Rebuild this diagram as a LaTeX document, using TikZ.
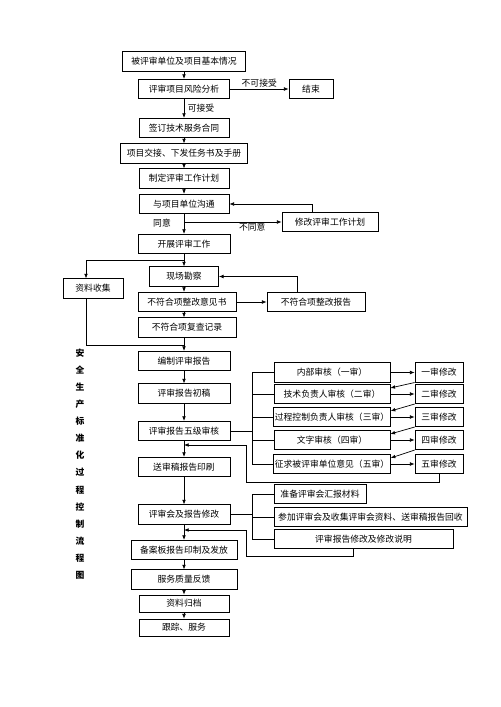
\documentclass[tikz,border=0pt]{standalone}
\usepackage{fontspec}
\setmainfont{Noto Sans CJK SC}
\usetikzlibrary{arrows.meta,positioning,calc}
\tikzset{arr/.style={draw, -{Latex[length=4pt,width=3.2pt]}, line width=0.6pt}}
\tikzset{ln/.style={draw, line width=0.6pt}}

\begin{document}
\begin{tikzpicture}[x=0.03cm, y=-0.03cm,
    box/.style={draw, line width=0.6pt, inner sep=1pt, minimum height=0.58cm, font=\fontsize{7.5}{9}\selectfont},
    lbl/.style={inner sep=1pt, font=\fontsize{7.5}{9}\selectfont}]
    \useasboundingbox (0,0) rectangle (500,707);

    % main column
    \node[box, minimum width=3.69cm] (basic) at (184,61.5) {被评审单位及项目基本情况};
    \node[box, minimum width=2.73cm] (risk) at (184,89) {评审项目风险分析};
    \node[box, minimum width=1.32cm] (finish) at (311,89) {结束};
    \node[box, minimum width=2.7cm] (contract) at (184,128) {签订技术服务合同};
    \node[box, minimum width=3.81cm] (handover) at (184,153.5) {项目交接、下发任务书及手册};
    \node[box, minimum width=2.7cm] (plan) at (184,178.5) {制定评审工作计划};
    \node[box, minimum width=2.7cm] (talk) at (184,204) {与项目单位沟通};
    \node[box, minimum width=2.88cm] (revise) at (330,222) {修改评审工作计划};
    \node[box, minimum width=2.76cm] (start) at (184,244) {开展评审工作};

    \node[box, minimum width=2.07cm] (site) at (184,276.5) {现场勘察};
    \node[box, minimum width=1.8cm] (collect) at (93,288.5) {资料收集};
    \node[box, minimum width=2.94cm] (nc) at (187,302) {不符合项整改意见书};
    \node[box, minimum width=2.94cm] (ncr) at (316,302) {不符合项整改报告};
    \node[box, minimum width=2.94cm] (recheck) at (187,327.5) {不符合项复查记录};

    \node[box, minimum width=2.76cm] (draft) at (184,361) {编制评审报告};
    \node[box, minimum width=2.76cm] (first) at (184,393.5) {评审报告初稿};
    \node[box, minimum width=2.76cm] (review) at (184,431) {评审报告五级审核};
    \node[box, minimum width=2.76cm] (print) at (184,467) {送审稿报告印刷};
    \node[box, minimum width=2.76cm] (meeting) at (184,514.5) {评审会及报告修改};
    \node[box, minimum width=3.18cm] (file) at (184,550) {备案板报告印制及发放};
    \node[box, minimum width=3.18cm] (feedback) at (184,579.5) {服务质量反馈};
    \node[box, minimum width=2.7cm, minimum height=0.51cm] (archive) at (184,603.5) {资料归档};
    \node[box, minimum width=2.7cm, minimum height=0.51cm] (service) at (184,627.5) {跟踪、服务};

    % five level review
    \node[box, minimum width=3.48cm] (rev1) at (332,372.5) {内部审核（一审）};
    \node[box, minimum width=3.48cm] (rev2) at (332,394) {技术负责人审核（二审）};
    \node[box, minimum width=3.48cm] (rev3) at (332,417) {过程控制负责人审核（三审）};
    \node[box, minimum width=3.48cm] (rev4) at (332,440) {文字审核（四审）};
    \node[box, minimum width=3.48cm] (rev5) at (332,464) {征求被评审单位意见（五审）};
    \node[box, minimum width=1.44cm] (fix1) at (439,372.5) {一审修改};
    \node[box, minimum width=1.44cm] (fix2) at (439,394) {二审修改};
    \node[box, minimum width=1.44cm] (fix3) at (439,417) {三审修改};
    \node[box, minimum width=1.44cm] (fix4) at (439,440) {四审修改};
    \node[box, minimum width=1.44cm] (fix5) at (439,464) {五审修改};

    % review meeting
    \node[box, minimum width=2.76cm] (prep) at (320,494) {准备评审会汇报材料};
    \node[box, minimum width=5.79cm] (attend) at (370.5,517) {参加评审会及收集评审会资料、送审稿报告回收};
    \node[box, minimum width=5.37cm] (note) at (363.5,539) {评审报告修改及修改说明};

    \node[lbl, font=\fontsize{7.5}{14.6}\selectfont\bfseries, align=center] (title) at (80,464)
        {安\\全\\生\\产\\标\\准\\化\\过\\程\\控\\制\\流\\程\\图};

    \draw[arr] (basic) -- (risk);
    \draw[arr] (risk) -- node[lbl, above] (nolbl) {不可接受} (finish);
    \draw[arr] (risk) -- node[lbl, right=2pt] (oklbl) {可接受} (contract);
    \draw[arr] (contract) -- (handover);
    \draw[arr] (handover) -- (plan);
    \draw[arr] (plan) -- (talk);
    \draw[arr] (talk) -- (start);
    \draw[arr] (talk.south |- revise.west) -- node[lbl, below, pos=0.7] (disagree) {不同意} (revise.west);
    \node[lbl] (agree) at (162,223) {同意};
    \draw[arr] ($(revise.north)+(-18,0)$) |- (talk.east);

    \coordinate (split) at (184,260);
    \coordinate (join) at (184,345);
    \draw[arr] (start) -- (site);
    \draw[arr] (split) -| ($(collect.north)+(-7,0)$);
    \draw[arr] (site) -- (site.south |- nc.north);
    \draw[arr] (nc) -- (ncr);
    \draw[arr] ($(ncr.north)+(-19,0)$) |- (site.east);
    \draw[arr] (nc.south -| site.south) -- (recheck.north -| site.south);
    \draw[arr] (recheck.south -| site.south) -- (draft.north);
    \draw[ln] ($(collect.south)+(-7,0)$) |- (join);

    \draw[arr] (draft) -- (first);
    \draw[arr] (first) -- (review);
    \draw[arr] (review) -- (print);
    \draw[arr] (print) -- (meeting);
    \draw[arr] (meeting) -- (file);
    \draw[arr] (file) -- (feedback);
    \draw[arr] (feedback) -- (archive);
    \draw[arr] (archive) -- (service);

    \draw[ln] (review.east) -- ++(23,0);
    \draw[ln] (rev1.west) -- ++(-21,0) |- (rev5.west);
    \draw[ln] (rev2.west) -- ++(-21,0);
    \draw[ln] (rev3.west) -- ++(-21,0);
    \draw[ln] (rev4.west) -- ++(-21,0);
    \draw[arr] (rev1) -- (fix1);
    \draw[arr] (rev2) -- (fix2);
    \draw[arr] (rev3) -- (fix3);
    \draw[arr] (rev4) -- (fix4);
    \draw[arr] (rev5) -- (fix5);
    \draw[arr] (fix1.south west) -- ($(rev2.north east)+(0,4)$);
    \draw[arr] (fix2.south west) -- ($(rev3.north east)+(0,4)$);
    \draw[arr] (fix3.south west) -- ($(rev4.north east)+(0,4)$);
    \draw[arr] (fix4.south west) -- ($(rev5.north east)+(0,4)$);
    \coordinate (back1) at (184,445);
    \draw[arr] (fix5.south) -- ++(0,8) -| ($(back1)+(62,0)$) -- (back1);

    \draw[ln] (meeting.east) -- ++(23,0);
    \draw[ln] (prep.west) -- ++(-21,0) |- (note.west);
    \draw[ln] (attend.west) -- ++(-21,0);
    \coordinate (back2) at (184,530);
    \draw[arr] ($(note.south)+(-10.5,0)$) -- ++(0,7) -| ($(back2)+(62,0)$) -- (back2);
\end{tikzpicture}
\end{document}
